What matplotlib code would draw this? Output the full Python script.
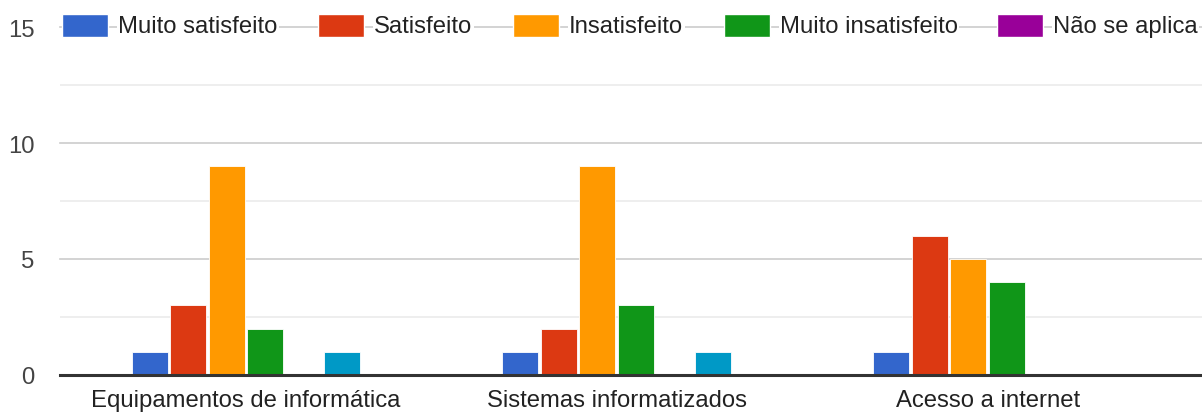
import numpy as np
import matplotlib.pyplot as plt
from matplotlib.patches import Rectangle

plt.rcParams['font.family'] = ['Liberation Sans', 'DejaVu Sans']

# Data
categories = ['Equipamentos de informática', 'Sistemas informatizados', 'Acesso a internet']
series = ['Muito satisfeito', 'Satisfeito', 'Insatisfeito', 'Muito insatisfeito', 'Não se aplica', 'Outro']
muito_satisfeito = [1, 1, 1]
satisfeito = [3, 2, 6]
insatisfeito = [9, 9, 5]
muito_insatisfeito = [2, 3, 4]
nao_se_aplica = [0, 0, 0]
outro = [1, 1, 0]
values = [muito_satisfeito, satisfeito, insatisfeito, muito_insatisfeito, nao_se_aplica, outro]
colors = ['#3366CC', '#DC3912', '#FF9900', '#109618', '#990099', '#0099C6']

W, H = 1202, 414
fig = plt.figure(figsize=(W / 100, H / 100), dpi=100)
ax = fig.add_axes([60 / W, 38 / H, 1 - 60 / W, (376 - 28) / H])

x = np.arange(len(categories))
step = 0.1038
width = 0.097
for i, (vals, c) in enumerate(zip(values, colors)):
    ax.bar(x + (i - 2.5) * step, vals, width=width, color=c, edgecolor='white',
           linewidth=0.6, zorder=3)

ax.set_xlim(-0.501, 2.578)
ax.set_ylim(0, 15)
ax.set_yticks([0, 5, 10, 15])
ax.set_yticks([2.5, 7.5, 12.5], minor=True)
ax.grid(axis='y', which='major', color='#cccccc', linewidth=1.2, zorder=0)
ax.grid(axis='y', which='minor', color='#ebebeb', linewidth=1.2, zorder=0)
for ln in ax.get_ygridlines():
    ln.set_clip_on(False)
ax.axhline(0, color='#333333', linewidth=2.2, zorder=4, clip_on=False)
for s in ax.spines.values():
    s.set_visible(False)

fs = 17.2
ax.set_xticks(x)
ax.set_xticklabels(categories, fontsize=fs, color='#222222')
ax.tick_params(axis='x', length=0, pad=10)
ax.tick_params(axis='y', which='both', length=0, pad=18.5, labelsize=fs, labelcolor='#444444')

# legend drawn like the Google chart one, sitting on the top gridline
leg_patches = [62, 318, 513, 724, 997]
for px, name, c in zip(leg_patches, series[:5], colors[:5]):
    fig.patches.append(Rectangle((px / W, (H - 38) / H), 46 / W, 23 / H,
                                 transform=fig.transFigure, facecolor=c,
                                 edgecolor='white', linewidth=1, zorder=5))
    fig.text((px + 56) / W, (H - 27) / H, name, fontsize=fs, color='#222222',
             va='center', ha='left', zorder=6,
             bbox=dict(facecolor='white', edgecolor='none', pad=1))

fig.savefig('out.png', dpi=100)
